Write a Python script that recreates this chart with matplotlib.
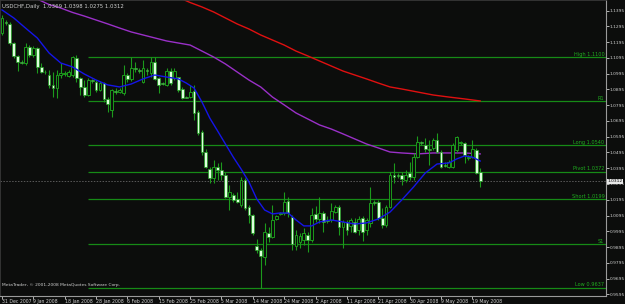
import matplotlib
matplotlib.use('Agg')
import matplotlib.pyplot as plt

# ---------------- data (USDCHF daily bars, index 0 = 31 Dec 2007) ----------------
opens = [1.1254, 1.1323, 1.1311, 1.1190, 1.1108, 1.1070, 1.1063, 1.1165, 1.1114, 1.1158,
         1.1038, 1.1006, 1.0987, 1.0924, 1.0904, 1.0987, 1.0993, 1.0981, 1.0987, 1.1095,
         1.0968, 1.0911, 1.0860, 1.0955, 1.0943, 1.0892, 1.0936, 1.0835, 1.0765, 1.0885,
         1.0879, 1.0873, 1.0987, 1.0962, 1.1031, 1.1019, 1.0943, 1.1019, 1.1000, 1.1070,
         1.0968, 1.0936, 1.0924, 1.1012, 1.0968, 1.0974, 1.0898, 1.0847, 1.0847, 1.0885,
         1.0752, 1.0625, 1.0498, 1.0390, 1.0333, 1.0403, 1.0384, 1.0352, 1.0213, 1.0225,
         1.0200, 1.0162, 1.0321, 1.0149, 1.0098, 0.9902, 0.9876, 0.9832, 0.9984, 0.9959,
         1.0073, 1.0105, 1.0111, 1.0187, 1.0086, 0.9902, 0.9927, 0.9940, 0.9972, 0.9940,
         1.0105, 1.0073, 1.0111, 1.0067, 1.0067, 1.0117, 1.0149, 1.0022, 1.0054, 1.0029,
         1.0054, 1.0003, 1.0079, 1.0003, 1.0048, 1.0181, 1.0181, 1.0079, 1.0035, 1.0149,
         1.0352, 1.0352, 1.0352, 1.0321, 1.0365, 1.0340, 1.0466, 1.0562, 1.0543, 1.0517,
         1.0524, 1.0574, 1.0498, 1.0416, 1.0403, 1.0403, 1.0511, 1.0555, 1.0555, 1.0460,
         1.0466, 1.0511, 1.0369]
highs = [1.1368, 1.1336, 1.1323, 1.1196, 1.1114, 1.1082, 1.1190, 1.1177, 1.1171, 1.1165,
         1.1063, 1.1019, 1.1019, 1.1006, 1.1019, 1.1063, 1.1012, 1.1019, 1.1108, 1.1114,
         1.0974, 1.0955, 1.0968, 1.0962, 1.0955, 1.0949, 1.0943, 1.0847, 1.0898, 1.0904,
         1.0904, 1.1050, 1.1000, 1.1101, 1.1070, 1.1031, 1.1082, 1.1031, 1.1101, 1.1101,
         1.0974, 1.0943, 1.1031, 1.1031, 1.1031, 1.0974, 1.0911, 1.0854, 1.0924, 1.0924,
         1.0765, 1.0638, 1.0517, 1.0403, 1.0448, 1.0428, 1.0435, 1.0371, 1.0289, 1.0238,
         1.0244, 1.0340, 1.0333, 1.0162, 1.0105, 0.9946, 0.9889, 1.0048, 1.0022, 1.0162,
         1.0098, 1.0117, 1.0244, 1.0213, 1.0098, 1.0003, 0.9984, 1.0016, 0.9991, 1.0143,
         1.0156, 1.0213, 1.0124, 1.0092, 1.0175, 1.0162, 1.0162, 1.0067, 1.0067, 1.0079,
         1.0079, 1.0092, 1.0092, 1.0079, 1.0276, 1.0194, 1.0194, 1.0143, 1.0162, 1.0371,
         1.0428, 1.0365, 1.0371, 1.0384, 1.0435, 1.0492, 1.0600, 1.0568, 1.0587, 1.0574,
         1.0587, 1.0619, 1.0511, 1.0435, 1.0448, 1.0555, 1.0600, 1.0568, 1.0562, 1.0479,
         1.0574, 1.0524, 1.0398]
lows = [1.1241, 1.1304, 1.1177, 1.1095, 1.1012, 1.1057, 1.1050, 1.1101, 1.1101, 1.1000,
        1.1000, 1.0993, 1.0904, 1.0847, 1.0841, 1.0968, 1.0981, 1.0974, 1.0974, 1.0943,
        1.0860, 1.0847, 1.0854, 1.0936, 1.0879, 1.0885, 1.0816, 1.0752, 1.0720, 1.0866,
        1.0873, 1.0860, 1.0943, 1.0949, 1.1006, 1.1000, 1.0936, 1.0987, 1.0974, 1.0955,
        1.0873, 1.0924, 1.0917, 1.0924, 1.0955, 1.0879, 1.0835, 1.0841, 1.0841, 1.0701,
        1.0606, 1.0479, 1.0397, 1.0302, 1.0302, 1.0321, 1.0321, 1.0206, 1.0130, 1.0181,
        1.0175, 1.0149, 1.0130, 1.0048, 0.9972, 0.9857, 0.9637, 0.9781, 0.9927, 0.9955,
        1.0067, 1.0098, 1.0098, 1.0086, 0.9876, 0.9876, 0.9889, 0.9908, 0.9864, 0.9927,
        1.0054, 1.0048, 0.9991, 1.0048, 1.0054, 1.0111, 0.9972, 0.9889, 0.9972, 0.9991,
        0.9984, 0.9972, 0.9934, 0.9972, 1.0022, 1.0162, 1.0067, 1.0016, 1.0022, 1.0143,
        1.0302, 1.0333, 1.0289, 1.0308, 1.0321, 1.0321, 1.0460, 1.0543, 1.0498, 1.0416,
        1.0511, 1.0492, 1.0397, 1.0403, 1.0397, 1.0397, 1.0498, 1.0543, 1.0428, 1.0448,
        1.0460, 1.0359, 1.0275]
closes = [1.1349, 1.1317, 1.1190, 1.1108, 1.1070, 1.1066, 1.1165, 1.1114, 1.1158, 1.1038,
          1.1006, 1.1003, 1.0924, 1.0904, 1.0987, 1.1000, 1.1000, 1.1006, 1.1101, 1.0968,
          1.0911, 1.0860, 1.0955, 1.0949, 1.0892, 1.0936, 1.0835, 1.0803, 1.0892, 1.0879,
          1.0892, 1.0987, 1.0962, 1.1031, 1.1025, 1.1012, 1.1031, 1.1012, 1.1070, 1.0962,
          1.0924, 1.0930, 1.1012, 1.0936, 1.1012, 1.0892, 1.0841, 1.0844, 1.0879, 1.0746,
          1.0619, 1.0498, 1.0403, 1.0333, 1.0403, 1.0384, 1.0352, 1.0213, 1.0244, 1.0194,
          1.0181, 1.0321, 1.0143, 1.0098, 0.9984, 0.9876, 0.9838, 0.9991, 0.9959, 1.0067,
          1.0092, 1.0111, 1.0181, 1.0111, 0.9914, 0.9972, 0.9965, 0.9984, 0.9940, 1.0098,
          1.0073, 1.0111, 1.0054, 1.0060, 1.0124, 1.0149, 1.0022, 1.0054, 1.0003, 1.0067,
          0.9991, 1.0073, 0.9991, 1.0067, 1.0175, 1.0175, 1.0079, 1.0035, 1.0149, 1.0352,
          1.0340, 1.0346, 1.0327, 1.0352, 1.0340, 1.0466, 1.0562, 1.0555, 1.0517, 1.0511,
          1.0574, 1.0498, 1.0403, 1.0410, 1.0435, 1.0543, 1.0593, 1.0562, 1.0479, 1.0466,
          1.0517, 1.0365, 1.0312]

# moving averages (bar index, price)
ma_fast_idx = [0, 3, 6, 9, 12, 15, 18, 21, 24, 27, 30, 33, 36, 39, 42, 45, 47, 49, 51, 53,
               55, 57, 59, 61, 63, 65, 67, 69, 71, 73, 75, 77, 79, 81, 84, 87, 90, 93, 96,
               99, 102, 105, 108, 111, 114, 116, 118, 120, 122]
ma_fast = [1.1400, 1.1349, 1.1285, 1.1222, 1.1127, 1.1063, 1.1038, 1.0993, 1.0955, 1.0924,
           1.0911, 1.0930, 1.0962, 1.0987, 1.0974, 1.0962, 1.0936, 1.0904, 1.0816, 1.0714,
           1.0632, 1.0549, 1.0466, 1.0390, 1.0308, 1.0200, 1.0130, 1.0105, 1.0111, 1.0111,
           1.0067, 1.0029, 1.0029, 1.0054, 1.0067, 1.0054, 1.0041, 1.0048, 1.0073, 1.0117,
           1.0194, 1.0276, 1.0365, 1.0422, 1.0428, 1.0454, 1.0473, 1.0466, 1.0441]
ma_mid_idx = [9, 12, 15, 18, 21, 24, 27, 30, 33, 36, 39, 42, 45, 48, 51, 54, 57, 60, 63, 66,
              69, 72, 75, 78, 81, 84, 87, 90, 93, 96, 99, 102, 106, 110, 114, 118, 122]
ma_mid = [1.1469, 1.1434, 1.1412, 1.1384, 1.1361, 1.1336, 1.1311, 1.1285, 1.1260, 1.1241,
          1.1222, 1.1203, 1.1190, 1.1177, 1.1139, 1.1101, 1.1057, 1.1006, 1.0955, 1.0911,
          1.0847, 1.0797, 1.0746, 1.0708, 1.0670, 1.0644, 1.0613, 1.0581, 1.0549, 1.0524,
          1.0498, 1.0492, 1.0486, 1.0492, 1.0492, 1.0492, 1.0486]
ma_slow_idx = [46, 48, 51, 54, 57, 60, 63, 66, 69, 72, 75, 78, 81, 84, 87, 90, 93, 96, 99,
               102, 106, 110, 114, 118, 122]
ma_slow = [1.1469, 1.1447, 1.1419, 1.1387, 1.1349, 1.1311, 1.1279, 1.1241, 1.1209, 1.1177,
           1.1139, 1.1108, 1.1076, 1.1044, 1.1012, 1.0987, 1.0962, 1.0936, 1.0911, 1.0898,
           1.0879, 1.0860, 1.0847, 1.0835, 1.0822]

level_names = ['High 1.1100', 'R1', 'Long 1.0540', 'Pivot 1.0372', 'Short 1.0199', 'S1', 'Low 0.9637']
level_values = [1.1100, 1.0822, 1.0540, 1.0372, 1.0199, 0.9912, 0.9637]
level_start = 22
current_price = 1.0312

symbol_title = 'USDCHF,Daily  1.0369 1.0398 1.0275 1.0312'
copyright_text = 'MetaTrader, \u00a9 2001-2008 MetaQuotes Software Corp.'

price_ticks = [1.1395, 1.1295, 1.1195, 1.1095, 1.0995, 1.0895, 1.0795, 1.0695, 1.0595,
               1.0495, 1.0395, 1.0295, 1.0195, 1.0095, 0.9995, 0.9895, 0.9795, 0.9695, 0.9595]
date_tick_idx = [0, 8, 16, 24, 32, 40, 48, 56, 64, 72, 80, 88, 96, 104, 112, 120]
date_labels = ['31 Dec 2007', '9 Jan 2008', '18 Jan 2008', '28 Jan 2008', '6 Feb 2008',
               '15 Feb 2008', '25 Feb 2008', '5 Mar 2008', '14 Mar 2008', '24 Mar 2008',
               '2 Apr 2008', '11 Apr 2008', '21 Apr 2008', '30 Apr 2008', '9 May 2008',
               '19 May 2008']

# ---------------- styling ----------------
plt.rcParams['font.family'] = ['DejaVu Sans']
BG = '#0c0d0c'
TXT = '#d0d0d0'
WICK = '#1c9a1c'
BEAR_FACE = '#dcffdc'
LEVEL_COL = '#168a16'
FS = 3.9
FS_AX = 3.2

fig = plt.figure(figsize=(6.25, 3.04), dpi=100, facecolor=BG)
ax = fig.add_axes([0.0, 8 / 304, 606 / 625, 296 / 304])
ax.set_facecolor(BG)
ax.set_xlim(-0.51, 154.1)
ax.set_ylim(0.9584, 1.1463)

# level lines
for name, val in zip(level_names, level_values):
    ax.hlines(val, level_start, 154.1, color=LEVEL_COL, lw=0.9, zorder=1)
    ax.text(153.7, val + 0.0003, name, color='#1fae1f', fontsize=3.6,
            ha='right', va='bottom', zorder=5)

# current price line
ax.axhline(current_price, color='#5a5a5a', lw=0.7, ls=(0, (1.5, 1.5)), zorder=1)

# moving averages
ax.plot(ma_slow_idx, ma_slow, color='#e01010', lw=1.0, zorder=2)
ax.plot(ma_mid_idx, ma_mid, color='#9a30c8', lw=1.0, zorder=2)
ax.plot(ma_fast_idx, ma_fast, color='#1515e8', lw=1.0, zorder=4)

# candles
idx = list(range(len(opens)))
ax.vlines(idx, lows, highs, color=WICK, lw=0.8, zorder=3)
bw = 0.7
for i, o, c in zip(idx, opens, closes):
    lo, hi = min(o, c), max(o, c)
    h = max(hi - lo, 0.00025)
    if c >= o:
        ax.bar(i, h, bottom=lo, width=bw, facecolor=BG, edgecolor=WICK, lw=0.7, zorder=3.5)
    else:
        ax.bar(i, h, bottom=lo, width=bw, facecolor=BEAR_FACE, edgecolor=WICK, lw=0.5, zorder=3.5)

# axes decorations
for s in ['left', 'top']:
    ax.spines[s].set_color('#3a3a3a')
    ax.spines[s].set_linewidth(0.6)
for s in ['right', 'bottom']:
    ax.spines[s].set_color('#9a9a9a')
    ax.spines[s].set_linewidth(0.8)

ax.yaxis.tick_right()
ax.set_yticks(price_ticks)
ax.set_yticklabels(['%.4f' % v for v in price_ticks])
ax.tick_params(axis='y', colors=TXT, labelsize=FS_AX, length=1.8, width=0.6, pad=1.0)
ax.set_xticks(date_tick_idx)
ax.set_xticklabels(date_labels, ha='left')
ax.tick_params(axis='x', colors=TXT, labelsize=3.3, length=2, width=0.6, pad=0.5)

# current price tag
ax.annotate('%.4f' % current_price, xy=(1.0, current_price), xycoords=('axes fraction', 'data'),
            xytext=(1.0, 0), textcoords='offset points', fontsize=FS_AX, color='#000000',
            va='center', ha='left',
            bbox=dict(boxstyle='square,pad=0.15', fc='#e8e8e8', ec='none'),
            annotation_clip=False, zorder=10)

# texts
ax.text(0.004, 0.988, symbol_title, transform=ax.transAxes, color=TXT,
        fontsize=FS, ha='left', va='top', zorder=10)
ax.text(0.004, 0.03, copyright_text, transform=ax.transAxes, color=TXT,
        fontsize=3.15, ha='left', va='bottom', zorder=10)

fig.savefig('out.png', dpi=100, facecolor=BG)
